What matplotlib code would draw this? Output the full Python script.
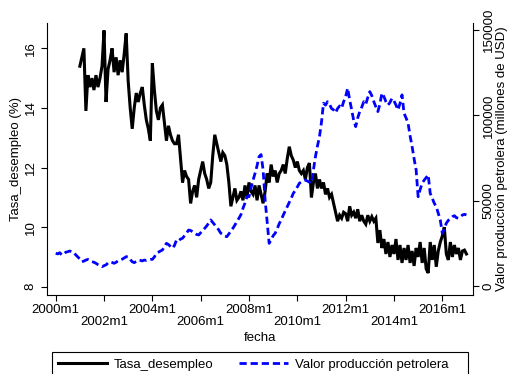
import matplotlib
matplotlib.use("Agg")
import matplotlib.pyplot as plt
from matplotlib.lines import Line2D
from matplotlib.patches import Rectangle
import numpy as np

plt.rcParams['font.family'] = ['Liberation Sans', 'DejaVu Sans']

# ---- data (monthly, month index 0 = 2000m1) ----
unemp_start = 12  # 2001m1
tasa_desempleo = [
    # 2001
    15.4, 15.7, 16.0, 13.9, 15.1, 14.7, 15.0, 14.6, 15.1, 14.7, 15.0, 15.4,
    # 2002
    16.6, 14.2, 15.3, 15.6, 16.0, 15.2, 15.7, 15.1, 15.6, 15.2, 15.8, 16.5,
    # 2003
    14.9, 14.0, 13.3, 14.0, 14.5, 14.2, 14.5, 14.7, 14.1, 13.6, 13.3, 12.9,
    # 2004
    15.5, 14.6, 13.9, 13.6, 14.0, 14.1, 13.5, 12.9, 13.4, 13.1, 12.9, 12.8,
    # 2005
    12.8, 13.1, 12.3, 11.5, 11.9, 11.7, 11.6, 10.8, 11.2, 11.4, 11.0, 11.6,
    # 2006
    11.9, 12.2, 11.8, 11.6, 11.3, 11.5, 12.4, 13.1, 12.8, 12.5, 12.2, 12.5,
    # 2007
    12.4, 12.1, 11.5, 10.7, 11.0, 11.3, 10.9, 11.0, 11.2, 10.9, 11.4, 11.0,
    # 2008
    11.5, 11.2, 11.1, 11.4, 10.9, 11.4, 11.1, 10.8, 11.2, 11.8, 11.5, 12.1,
    # 2009
    11.7, 11.9, 11.5, 11.8, 11.9, 12.1, 11.8, 12.3, 12.7, 12.4, 12.25, 12.0,
    # 2010
    12.2, 11.9, 11.8, 11.9, 11.6, 12.0, 12.15, 11.0, 11.5, 11.8, 11.3, 11.6,
    # 2011
    11.3, 11.5, 11.1, 11.3, 11.0, 11.1, 10.8, 10.5, 10.2, 10.4, 10.3, 10.5,
    # 2012
    10.45, 10.2, 10.7, 10.4, 10.5, 10.3, 10.6, 10.2, 10.4, 10.2, 10.1, 10.4,
    # 2013
    10.2, 10.35, 10.2, 10.3, 9.47, 9.9, 9.3, 9.6, 9.1, 9.5, 9.0, 9.4,
    # 2014
    9.1, 9.6, 8.9, 9.4, 8.8, 9.3, 8.9, 9.4, 8.8, 9.2, 8.7, 9.3,
    # 2015
    9.0, 9.5, 8.8, 9.3, 8.6, 8.46, 9.5, 8.9, 9.4, 8.67, 9.2, 9.5,
    # 2016
    9.7, 10.0, 9.1, 8.9, 9.5, 9.0, 9.4, 9.1, 9.3, 8.9, 9.2, 9.23,
    # 2017
    9.1,
]

oil_start = 0  # 2000m1
valor_petrolera = [
    # 2000
    19200, 18800, 19500, 18200, 18600, 19800, 20100, 20500, 20100, 19600, 18200, 17000,
    # 2001
    15800, 14200, 14600, 15200, 15600, 15000, 14300, 13900, 13300, 12500, 11900, 11300,
    # 2002
    11900, 12400, 13500, 14200, 13800, 13300, 13900, 14800, 15200, 15700, 16400, 17200,
    # 2003
    17000, 15600, 14200, 13700, 14400, 15200, 15000, 14700, 15200, 15000, 15400, 15600,
    # 2004
    15600, 17000, 19200, 19800, 20500, 21100, 23000, 25000, 24300, 23200, 22100, 23800,
    # 2005
    27000, 26500, 27500, 28000, 29500, 31000, 32800, 32500, 31800, 30900, 30200, 29900,
    # 2006
    31200, 32500, 33800, 35200, 37000, 38700, 37200, 35800, 34500, 32800, 30900, 30200,
    # 2007
    29200, 28900, 30500, 32200, 33800, 35700, 37800, 39700, 41800, 45500, 48600, 52300,
    # 2008
    52300, 57500, 62000, 66000, 70500, 75800, 77000, 68000, 50500, 38000, 25000, 27000,
    # 2009
    29500, 30900, 33500, 36500, 38700, 41500, 44000, 46500, 49000, 51500, 54300, 56000,
    # 2010
    58000, 60200, 61000, 61800, 62100, 61500, 60800, 60200, 68000, 75800, 82000, 87500,
    # 2011
    96000, 107100, 106000, 108000, 106500, 104000, 103200, 101500, 104000, 105500, 104200, 108000,
    # 2012
    111000, 115900, 109000, 103200, 97000, 93400, 98500, 102200, 104800, 108000, 106500, 110500,
    # 2013
    113900, 111500, 108000, 105000, 102200, 106500, 113000, 111000, 108000, 106000, 107500, 110000,
    # 2014
    108500, 106000, 103200, 107000, 112000, 101200, 98500, 95400, 88000, 81700, 74500, 68000,
    # 2015
    52300, 56500, 60200, 62000, 63500, 65100, 54300, 51500, 48500, 46500, 42500, 38700,
    # 2016
    30900, 33500, 36800, 38500, 39500, 40600, 41200, 40000, 39700, 40500, 41600, 42000,
    # 2017
    41600,
]

major_ticks = [0, 48, 96, 144, 192]
major_labels = ["2000m1", "2004m1", "2008m1", "2012m1", "2016m1"]
minor_ticks = [24, 72, 120, 168]
minor_labels = ["2002m1", "2006m1", "2010m1", "2014m1"]
left_ticks = [8, 10, 12, 14, 16]
right_ticks = [0, 50000, 100000, 150000]

# ---- figure ----
W, H = 509, 374
fig = plt.figure(figsize=(W / 100, H / 100), dpi=100)
L, R, T, B = 46.7, 472.7, 23.0, 294.5
ax = fig.add_axes([L / W, 1 - B / H, (R - L) / W, (B - T) / H])
ax2 = ax.twinx()

t_u = np.arange(unemp_start, unemp_start + len(tasa_desempleo))
t_o = np.arange(oil_start, oil_start + len(valor_petrolera))

lw = 2.2
ax.plot(t_u, tasa_desempleo, color='black', lw=lw, solid_joinstyle='miter')
ax2.plot(t_o, valor_petrolera, color='#0000ff', lw=2.0, dashes=(2.6, 1.4))

ax.set_xlim(-4.47, 207.1)
ax.set_ylim(7.74, 16.85)
ax2.set_ylim(-4980, 154100)

fs = 9.5
spine_lw = 0.8
for a in (ax, ax2):
    a.spines['top'].set_visible(False)
    for s in a.spines.values():
        s.set_linewidth(spine_lw)
ax.spines['right'].set_visible(False)
ax2.spines['left'].set_visible(False)
ax2.spines['bottom'].set_visible(False)

ax.set_xticks(major_ticks)
ax.set_xticklabels(major_labels)
ax.set_xticks(minor_ticks, minor=True)
ax.set_xticklabels(minor_labels, minor=True)
ax.tick_params(axis='x', which='major', length=4, width=spine_lw, pad=2.5, labelsize=fs)
ax.tick_params(axis='x', which='minor', length=4, width=spine_lw, pad=11.5, labelsize=fs)

ax.set_yticks(left_ticks)
ax.set_yticklabels([str(v) for v in left_ticks])
ax.tick_params(axis='y', length=4.3, width=spine_lw, pad=3, labelsize=fs, labelrotation=90)
for lbl in ax.get_yticklabels():
    lbl.set_va('center')

ax2.set_yticks(right_ticks)
ax2.set_yticklabels([str(v) for v in right_ticks])
ax2.tick_params(axis='y', length=4.3, width=spine_lw, pad=3, labelsize=fs, labelrotation=90)
for lbl in ax2.get_yticklabels():
    lbl.set_va('center')

cy = 1 - ((T + B) / 2) / H
fig.text(16 / W, cy, "Tasa_desempleo (%)", rotation=90, ha='center', va='center', fontsize=fs)
fig.text(501.5 / W, cy, "Valor producción petrolera (millones de USD)", rotation=90,
         ha='center', va='center', fontsize=fs)
fig.text(((L + R) / 2) / W, 1 - 338 / H, "fecha", ha='center', va='center', fontsize=fs)

# legend
handles = [Line2D([], [], color='black', lw=lw),
           Line2D([], [], color='#0000ff', lw=2.0, dashes=(2.6, 1.4))]
fig.legend(handles, ["Tasa_desempleo", "Valor producción petrolera"], loc='upper left',
           bbox_to_anchor=(58 / W, 1 - 358.5 / H), ncol=2, frameon=False, borderpad=0,
           borderaxespad=0, handlelength=3.7, handletextpad=0.55, columnspacing=1.9,
           fontsize=fs)
fig.add_artist(Rectangle((51.7 / W, -0.1), (468 - 51.7) / W, (1 - 352.3 / H) + 0.1,
                         transform=fig.transFigure, fill=False, edgecolor='black', lw=0.8))

fig.savefig("out.png", dpi=100, facecolor='white')
